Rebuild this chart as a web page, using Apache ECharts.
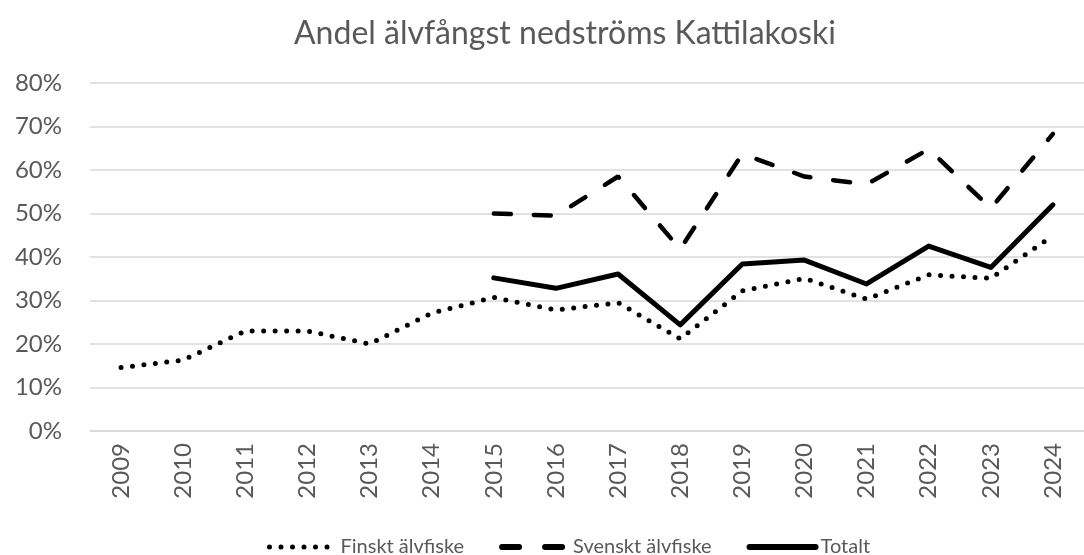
<!DOCTYPE html>
<html>
<head>
<meta charset="utf-8">
<script src="https://cdn.jsdelivr.net/npm/echarts@6/dist/echarts.min.js"></script>
<style>
  html, body { margin: 0; padding: 0; background: #fff; }
  #main { width: 1084px; height: 555px; }
</style>
</head>
<body>
<div id="main"></div>
<script>
// år och andelar (%)
const years = ['2009','2010','2011','2012','2013','2014','2015','2016','2017','2018','2019','2020','2021','2022','2023','2024'];
const finskt = [14.6, 16.3, 23, 23, 20, 27.1, 30.7, 27.8, 29.5, 21.2, 32.2, 35.1, 30.3, 35.9, 35.1, 44.9];
const svenskt = [null, null, null, null, null, null, 50, 49.5, 58.5, 41.8, 63.7, 58.5, 56.7, 64.8, 51.2, 68.3];
const totalt = [null, null, null, null, null, null, 35.2, 32.8, 36.1, 24.4, 38.4, 39.3, 33.8, 42.5, 37.6, 52];

const grey = '#595959';
const font = 'Lato, "Open Sans", sans-serif';

var myChart = echarts.init(document.getElementById('main'));
myChart.setOption({
    animation: false,
    title: {
        text: 'Andel älvfångst nedströms Kattilakoski',
        left: 289,
        top: 13,
        textStyle: { color: grey, fontSize: 32, fontWeight: 'normal', fontFamily: font }
    },
    legend: {
        left: 262,
        top: 532,
        itemWidth: 66,
        itemHeight: 14,
        itemGap: 35,
        itemStyle: { opacity: 0 },
        textStyle: { color: grey, fontSize: 20, fontFamily: font },
        data: [
            { name: 'Finskt älvfiske', lineStyle: { width: 5, type: [0, 11.5], cap: 'round' } },
            { name: 'Svenskt älvfiske', lineStyle: { width: 6, type: [17, 26], cap: 'round' } },
            { name: 'Totalt', lineStyle: { width: 6, cap: 'round' } }
        ]
    },
    grid: { left: 90, right: -12, top: 83, bottom: 124 },
    xAxis: {
        type: 'category',
        data: years,
        boundaryGap: true,
        axisTick: { show: false },
        axisLine: { lineStyle: { color: '#d9d9d9', width: 1.5 } },
        axisLabel: { rotate: 90, color: grey, fontSize: 24, fontFamily: font, margin: 12 }
    },
    yAxis: {
        type: 'value',
        min: 0,
        max: 80,
        interval: 10,
        axisLine: { show: false },
        axisTick: { show: false },
        splitLine: { lineStyle: { color: '#d9d9d9', width: 1.5 } },
        axisLabel: { formatter: '{value}%', color: grey, fontSize: 24, fontFamily: font, margin: 28 }
    },
    series: [
        {
            name: 'Finskt älvfiske',
            type: 'line',
            data: finskt,
            symbol: 'none',
            color: '#000',
            lineStyle: { color: '#000', width: 5, type: [0, 11.5], cap: 'round' }
        },
        {
            name: 'Svenskt älvfiske',
            type: 'line',
            data: svenskt,
            symbol: 'none',
            color: '#000',
            lineStyle: { color: '#000', width: 4.5, type: [17, 23], cap: 'round' }
        },
        {
            name: 'Totalt',
            type: 'line',
            data: totalt,
            symbol: 'none',
            color: '#000',
            lineStyle: { color: '#000', width: 5, cap: 'round', join: 'round' }
        }
    ]
});
</script>
</body>
</html>
